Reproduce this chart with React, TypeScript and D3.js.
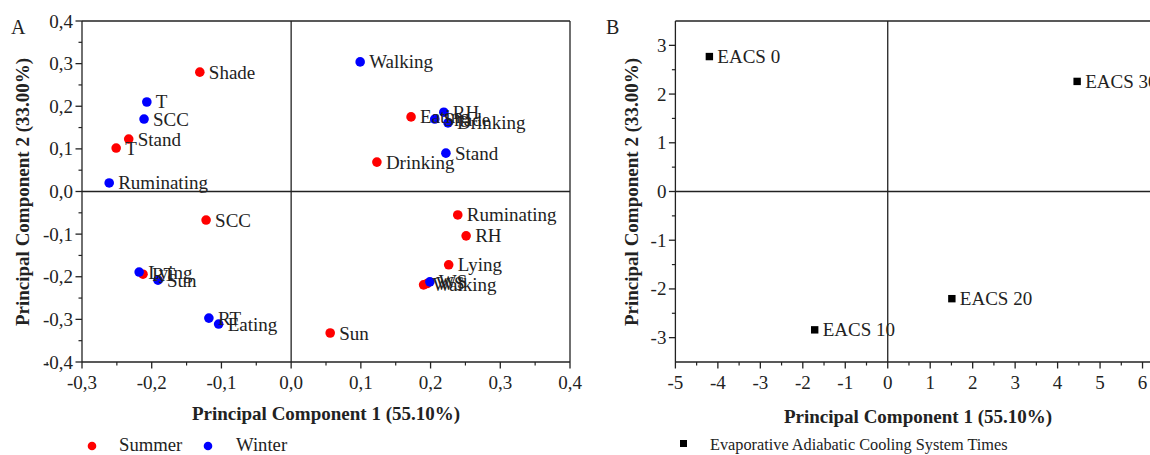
import * as d3 from 'd3';

// Panel A: PCA loadings, Summer vs Winter
const summerLabels = ['Shade', 'Stand', 'T', 'SCC', 'RT', 'Eating', 'Drinking', 'Ruminating', 'RH', 'Lying', 'Walking', 'WS', 'Sun'];
const summerX = [-0.131, -0.233, -0.251, -0.122, -0.2125, 0.172, 0.123, 0.239, 0.251, 0.226, 0.19, 0.195, 0.056];
const summerY = [0.28, 0.123, 0.102, -0.067, -0.194, 0.175, 0.069, -0.055, -0.104, -0.172, -0.219, -0.216, -0.332];

const winterLabels = ['Walking', 'Shade', 'RH', 'Drinking', 'Stand', 'T', 'SCC', 'Ruminating', 'Lying', 'Sun', 'RT', 'Eating', 'WS'];
const winterX = [0.099, 0.206, 0.219, 0.225, 0.222, -0.207, -0.211, -0.261, -0.218, -0.191, -0.118, -0.104, 0.199];
const winterY = [0.304, 0.17, 0.186, 0.161, 0.09, 0.21, 0.17, 0.02, -0.189, -0.208, -0.297, -0.311, -0.212];

// Panel B: PCA scores, EACS times
const eacsLabels = ['EACS 0', 'EACS 10', 'EACS 20', 'EACS 30'];
const eacsX = [-4.2, -1.72, 1.51, 4.46];
const eacsY = [2.77, -2.84, -2.2, 2.26];

const ticksA = [-0.4, -0.3, -0.2, -0.1, 0, 0.1, 0.2, 0.3, 0.4];
const ticksBX = [-5, -4, -3, -2, -1, 0, 1, 2, 3, 4, 5, 6];
const ticksBY = [-3, -2, -1, 0, 1, 2, 3];

const FONT = '"Liberation Serif", "Times New Roman", serif';
const INK = '#222';
const RED = '#ff0000';
const BLUE = '#0000ff';

const fmtA = (v: number) => d3.format('.1f')(v).replace('.', ',').replace('−', '-');
const fmtB = (v: number) => String(v);

type Pt = { label: string; x: number; y: number };
const zipPts = (l: string[], xs: number[], ys: number[]): Pt[] => l.map((s, i) => ({ label: s, x: xs[i], y: ys[i] }));

const Axes = ({ x, y, xTicks, yTicks, xMinor, yMinor, fmt, clipRight }: any) => {
  const [x0, x1] = x.range();
  const [y0, y1] = y.range();
  return (
    <g>
      {/* frame */}
      <line x1={x0} x2={x1} y1={y1} y2={y1} stroke={INK} strokeWidth={1.3} />
      {!clipRight && <line x1={x1} x2={x1} y1={y1} y2={y0} stroke={INK} strokeWidth={1.3} />}
      <line x1={x0} x2={x1} y1={y0} y2={y0} stroke={INK} strokeWidth={1.3} />
      <line x1={x0} x2={x0} y1={y1} y2={y0} stroke={INK} strokeWidth={1.3} />
      {/* zero lines */}
      <line x1={x(0)} x2={x(0)} y1={y1} y2={y0} stroke={INK} strokeWidth={1.3} />
      <line x1={x0} x2={x1} y1={y(0)} y2={y(0)} stroke={INK} strokeWidth={1.3} />
      {xMinor.map((t: number) => (
        <line key={'xm' + t} x1={x(t)} x2={x(t)} y1={y0} y2={y0 + 3.5} stroke={INK} strokeWidth={1.2} />
      ))}
      {yMinor.map((t: number) => (
        <line key={'ym' + t} x1={x0} x2={x0 - 3.5} y1={y(t)} y2={y(t)} stroke={INK} strokeWidth={1.2} />
      ))}
      {xTicks.map((t: number) => (
        <g key={'x' + t}>
          <line x1={x(t)} x2={x(t)} y1={y0} y2={y0 + 6.5} stroke={INK} strokeWidth={1.3} />
          <text x={x(t)} y={y0 + 27} textAnchor="middle" fontSize={19} fill={INK}>{fmt(t)}</text>
        </g>
      ))}
      {yTicks.map((t: number) => (
        <g key={'y' + t}>
          <line x1={x0} x2={x0 - 6.5} y1={y(t)} y2={y(t)} stroke={INK} strokeWidth={1.3} />
          <text x={x0 - 9} y={y(t) + 6.5} textAnchor="end" fontSize={19} fill={INK}>{fmt(t)}</text>
        </g>
      ))}
    </g>
  );
};

export default function App() {
  // Panel A scales
  const xA = d3.scaleLinear().domain([-0.3, 0.4]).range([82, 570]);
  const yA = d3.scaleLinear().domain([-0.4, 0.4]).range([362, 21]);
  const minorA = d3.range(-0.35, 0.4, 0.1).map((v) => +v.toFixed(2));

  // Panel B scales (right side runs past the picture edge)
  const xB = d3.scaleLinear().domain([-5, 7]).range([675.4, 1185]);
  const yB = d3.scaleLinear().domain([-3.5, 3.5]).range([362, 21]);
  const minorBX = d3.range(-4.5, 7, 1);
  const minorBY = d3.range(-2.5, 3, 1);

  const summer = zipPts(summerLabels, summerX, summerY);
  const winter = zipPts(winterLabels, winterX, winterY);
  const eacs = zipPts(eacsLabels, eacsX, eacsY);

  return (
    <svg width={1150} height={455} style={{ position: 'absolute', left: 0, top: 0, background: '#fff' }} fontFamily={FONT}>
      <rect width={1150} height={455} fill="#fff" />

      {/* ---------- A ---------- */}
      <text x={11} y={34} fontSize={20} fill={INK}>A</text>
      <Axes x={xA} y={yA} xTicks={ticksA.filter((t) => t >= -0.3)} yTicks={ticksA} xMinor={minorA} yMinor={minorA} fmt={fmtA} />
      {summer.map((d) => (
        <circle key={'s' + d.label} cx={xA(d.x)} cy={yA(d.y)} r={4.8} fill={RED} />
      ))}
      {winter.map((d) => (
        <circle key={'w' + d.label} cx={xA(d.x)} cy={yA(d.y)} r={4.8} fill={BLUE} />
      ))}
      {[...summer, ...winter].map((d, i) => (
        <text key={'l' + i} x={xA(d.x) + 9} y={yA(d.y) + 6.5} fontSize={19} fill={INK}>{d.label}</text>
      ))}
      <text x={326} y={420} textAnchor="middle" fontSize={19} fontWeight="bold" fill={INK}>Principal Component 1 (55.10%)</text>
      <text transform="translate(29,192) rotate(-90)" textAnchor="middle" fontSize={19} fontWeight="bold" fill={INK}>Principal Component 2 (33.00%)</text>

      {/* legend A */}
      <circle cx={92} cy={446} r={4.3} fill={RED} />
      <text x={119} y={451} fontSize={18.7} fill={INK}>Summer</text>
      <circle cx={208} cy={446} r={4.3} fill={BLUE} />
      <text x={236} y={451} fontSize={18.7} fill={INK}>Winter</text>

      {/* ---------- B ---------- */}
      <text x={606} y={34} fontSize={20} fill={INK}>B</text>
      <Axes x={xB} y={yB} xTicks={ticksBX} yTicks={ticksBY} xMinor={minorBX} yMinor={minorBY} fmt={fmtB} clipRight />
      {eacs.map((d) => (
        <g key={d.label}>
          <rect x={xB(d.x) - 3.7} y={yB(d.y) - 3.7} width={7.4} height={7.4} fill="#000" />
          <text x={xB(d.x) + 8} y={yB(d.y) + 6.5} fontSize={19} fill={INK}>{d.label}</text>
        </g>
      ))}
      <text x={918} y={423} textAnchor="middle" fontSize={19} fontWeight="bold" fill={INK}>Principal Component 1 (55.10%)</text>
      <text transform="translate(638,192) rotate(-90)" textAnchor="middle" fontSize={19} fontWeight="bold" fill={INK}>Principal Component 2 (33.00%)</text>

      {/* legend B */}
      <rect x={680} y={440} width={7} height={7} fill="#000" />
      <text x={710} y={450} fontSize={16.3} fill={INK}>Evaporative Adiabatic Cooling System Times</text>
    </svg>
  );
}
